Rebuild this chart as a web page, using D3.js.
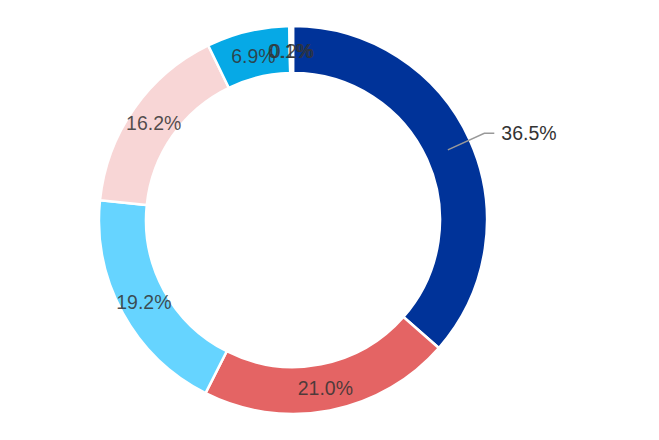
<!DOCTYPE html>
<html>
<head>
<meta charset="utf-8">
<script src="https://cdn.jsdelivr.net/npm/d3@7"></script>
<style>
  body { margin: 0; background: #fff; }
  text { font-family: "Liberation Sans", Arial, Helvetica, sans-serif; }
</style>
</head>
<body>
<div id="container"></div>
<script>
/* CONSTANTS AND GLOBALS */
const width = 659,
  height = 440,
  cx = 293,
  cy = 220,
  outerR = 194,
  innerR = 147;

// slice data, clockwise from 12 o'clock
const categories = ["A", "B", "C", "D", "E", "F", "G"];
const shares = [36.5, 21.0, 19.2, 16.2, 6.9, 0.1, 0.2];
const colors = ["#003399", "#e46464", "#66d4ff", "#f8d6d6", "#06a9e6", "#ffffff", "#ffffff"];

const data = categories.map((c, i) => ({ name: c, value: shares[i], color: colors[i] }));

const svg = d3.select("#container")
  .append("svg")
  .attr("width", width)
  .attr("height", height);

const g = svg.append("g")
  .attr("transform", `translate(${cx}, ${cy})`);

const pie = d3.pie()
  .sort(null)
  .value(d => d.value);

const arc = d3.arc()
  .innerRadius(innerR)
  .outerRadius(outerR);

const labelArc = d3.arc()
  .innerRadius(170)
  .outerRadius(170);

const arcs = pie(data);

// + DRAW SLICES
g.selectAll("path.slice")
  .data(arcs)
  .join("path")
  .attr("class", "slice")
  .attr("d", arc)
  .attr("fill", d => d.data.color)
  .attr("stroke", "#fff")
  .attr("stroke-width", 2.5);

// + LABELS: the biggest slice gets an outside label with a leader line
const outside = arcs.filter((d, i) => i === 0);
const inside = arcs.filter((d, i) => i !== 0);

g.selectAll("text.inLabel")
  .data(inside)
  .join("text")
  .attr("class", "inLabel")
  .attr("transform", d => `translate(${labelArc.centroid(d)})`)
  .attr("text-anchor", "middle")
  .attr("dy", "0.4em")
  .attr("font-size", 19.5)
  .attr("fill", "#333")
  .attr("fill-opacity", 0.85)
  .text(d => d3.format(".1f")(d.data.value) + "%");

outside.forEach(d => {
  const [x0, y0] = labelArc.centroid(d);
  const mid = (d.startAngle + d.endAngle) / 2;
  const r1 = 210;
  const x1 = Math.sin(mid) * r1, y1 = -Math.cos(mid) * r1;
  const x2 = x1 + 10;
  g.append("path")
    .attr("d", d3.line()([[x0, y0], [x1, y1], [x2, y1]]))
    .attr("fill", "none")
    .attr("stroke", "#999")
    .attr("stroke-width", 1.5);
  g.append("text")
    .attr("x", x2 + 7)
    .attr("y", y1)
    .attr("dy", "0.36em")
    .attr("font-size", 19.5)
    .attr("fill", "#333")
    .text(d3.format(".1f")(d.data.value) + "%");
});
</script>
</body>
</html>
